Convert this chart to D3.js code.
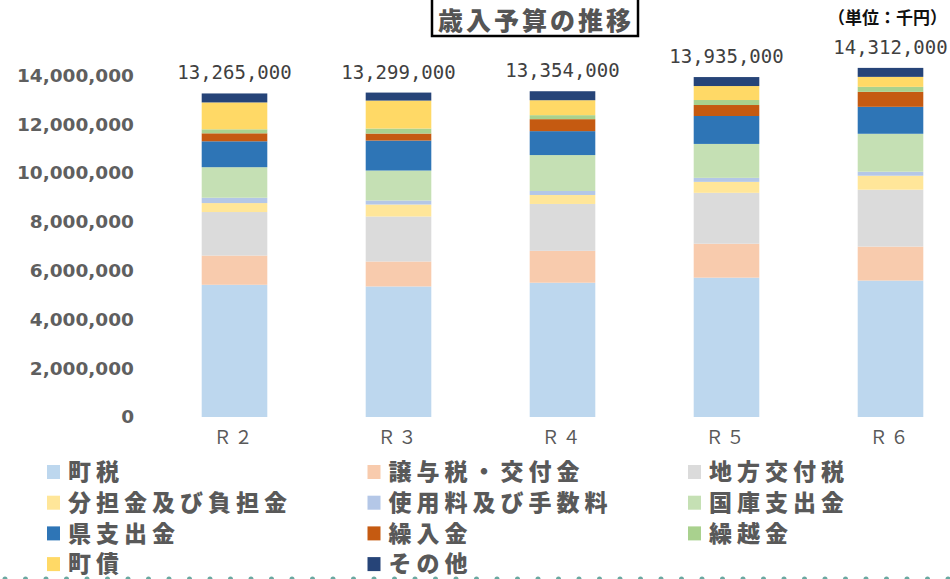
<!DOCTYPE html>
<html lang="ja">
<head>
<meta charset="utf-8">
<script src="https://cdn.jsdelivr.net/npm/d3@7"></script>
<style>
  body { margin: 0; background: #fff; }
  svg { display: block; }
</style>
</head>
<body>
<svg id="chart" width="950" height="579"></svg>
<script>
// 年度
const years = ["Ｒ２", "Ｒ３", "Ｒ４", "Ｒ５", "Ｒ６"];
// 歳入合計（千円）
const totals = [13265000, 13299000, 13354000, 13935000, 14312000];

// 項目ごとの金額（千円）- グラフから読み取った概算
const chouzei       = [5420000, 5352000, 5505000, 5713000, 5594000];
const jouyozei      = [1198000, 1024000, 1308000, 1391000, 1392000];
const chihoKofuzei  = [1784000, 1843000, 1921000, 2086000, 2333000];
const buntankin     = [368000, 492000, 368000, 450000, 573000];
const shiyoryo      = [218000, 164000, 164000, 164000, 164000];
const kokko         = [1253000, 1229000, 1472000, 1391000, 1555000];
const kenShishutsu  = [1062000, 1229000, 981000, 1145000, 1105000];
const kurikomi      = [327000, 287000, 491000, 450000, 614000];
const kurikoshi     = [163000, 205000, 164000, 205000, 205000];
const chousai       = [1103000, 1147000, 613000, 573000, 409000];
const sonota        = [368000, 328000, 368000, 368000, 368000];

const seriesNames = ["町税", "譲与税・交付金", "地方交付税", "分担金及び負担金", "使用料及び手数料",
  "国庫支出金", "県支出金", "繰入金", "繰越金", "町債", "その他"];
const seriesValues = [chouzei, jouyozei, chihoKofuzei, buntankin, shiyoryo,
  kokko, kenShishutsu, kurikomi, kurikoshi, chousai, sonota];
const seriesColors = ["#BDD7EE", "#F8CBAD", "#DBDBDB", "#FFE699", "#B4C7E7",
  "#C5E0B4", "#2E75B6", "#C55A11", "#A9D18E", "#FFD966", "#264478"];
const yTicks = [0, 2000000, 4000000, 6000000, 8000000, 10000000, 12000000, 14000000];

// build rows for d3.stack
const rows = years.map((y, i) => {
  const r = { year: y };
  seriesNames.forEach((s, j) => { r[s] = seriesValues[j][i]; });
  return r;
});

const svg = d3.select("#chart");
const jp = "'Noto Sans CJK JP', 'Noto Sans', sans-serif";

const x = d3.scaleBand()
  .domain(years)
  .range([152.5, 972.5])
  .paddingInner(0.6)
  .paddingOuter(0.3);

const y = d3.scaleLinear()
  .domain([0, 14000000])
  .range([417, 75.5]);

const color = d3.scaleOrdinal().domain(seriesNames).range(seriesColors);

const stacked = d3.stack().keys(seriesNames)(rows);

// bars
svg.append("g")
  .selectAll("g")
  .data(stacked)
  .join("g")
  .attr("fill", d => color(d.key))
  .selectAll("rect")
  .data(d => d)
  .join("rect")
  .attr("x", d => x(d.data.year))
  .attr("width", x.bandwidth())
  .attr("y", d => y(d[1]))
  .attr("height", d => y(d[0]) - y(d[1]));

// y axis
const yAxis = svg.append("g")
  .attr("transform", "translate(140,0)")
  .call(d3.axisLeft(y).tickValues(yTicks).tickFormat(d3.format(",")).tickSize(0).tickPadding(6));
yAxis.select(".domain").remove();
yAxis.selectAll("text")
  .attr("font-family", "'DejaVu Sans', sans-serif")
  .attr("font-weight", "bold")
  .attr("font-size", 18.5)
  .attr("fill", "#5f5f5f");

// x axis
const xAxis = svg.append("g")
  .attr("transform", "translate(0,417)")
  .call(d3.axisBottom(x).tickSize(0).tickPadding(14));
xAxis.select(".domain").remove();
xAxis.selectAll("text")
  .attr("font-family", jp)
  .attr("font-size", 18)
  .attr("letter-spacing", 3)
  .attr("fill", "#595959");

// total labels
svg.append("g")
  .selectAll("text")
  .data(totals)
  .join("text")
  .attr("x", (d, i) => x(years[i]) + x.bandwidth() / 2)
  .attr("y", d => y(d) - 14)
  .attr("text-anchor", "middle")
  .attr("font-family", "'DejaVu Sans Mono', monospace")
  .attr("font-size", 19)
  .attr("fill", "#404040")
  .text(d3.format(","));

// title box
svg.append("rect")
  .attr("x", 432).attr("y", -5)
  .attr("width", 206).attr("height", 41)
  .attr("fill", "#fff")
  .attr("stroke", "#000")
  .attr("stroke-width", 2.5);
svg.append("text")
  .attr("x", 536).attr("y", 29.5)
  .attr("text-anchor", "middle")
  .attr("font-family", jp)
  .attr("font-weight", 900)
  .attr("font-size", 25)
  .attr("letter-spacing", 3)
  .attr("fill", "#555")
  .text("歳入予算の推移");

// unit
svg.append("text")
  .attr("x", 947).attr("y", 24)
  .attr("text-anchor", "end")
  .attr("font-family", jp)
  .attr("font-weight", "bold")
  .attr("font-size", 17)
  .attr("fill", "#111")
  .text("（単位：千円）");

// legend
const legend = svg.append("g")
  .selectAll("g")
  .data(seriesNames)
  .join("g")
  .attr("transform", (d, i) => `translate(${47 + (i % 3) * 320.5},${472 + Math.floor(i / 3) * 30.7})`);
legend.append("rect")
  .attr("x", 0).attr("y", -7)
  .attr("width", 13).attr("height", 14)
  .attr("fill", d => color(d));
legend.append("text")
  .attr("x", 21).attr("y", 0)
  .attr("dy", "0.36em")
  .attr("font-family", jp)
  .attr("font-weight", 900)
  .attr("font-size", 23)
  .attr("letter-spacing", 5)
  .attr("fill", "#595959")
  .text(d => d);

// dotted line at bottom
svg.append("line")
  .attr("x1", 5).attr("x2", 950)
  .attr("y1", 579).attr("y2", 579)
  .attr("stroke", "#6aa8a0")
  .attr("stroke-width", 5)
  .attr("stroke-linecap", "round")
  .attr("stroke-dasharray", "0 20.5");
</script>
</body>
</html>
